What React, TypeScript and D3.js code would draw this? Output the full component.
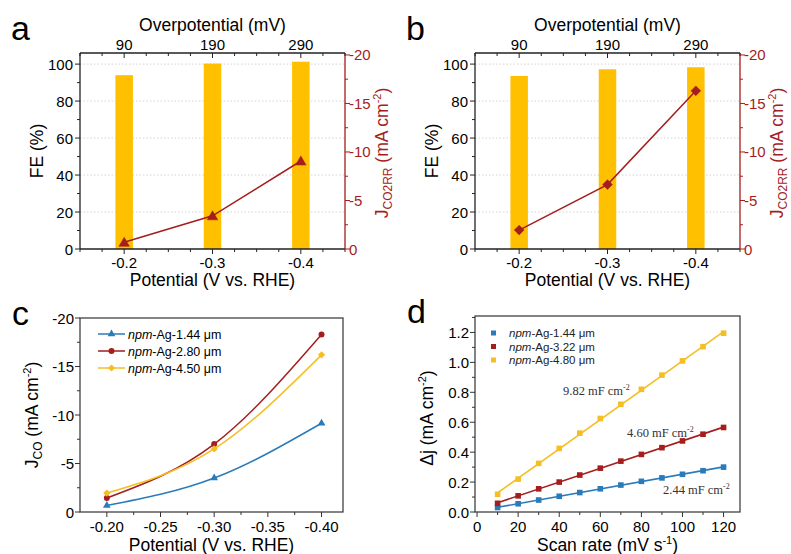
import React from "react";
import * as d3 from "d3";

// ---------- DATA ----------
const potentials = [-0.2, -0.3, -0.4];
const overpotentialTicks = [90, 190, 290];
const feA = [94.0, 100.3, 101.3];
const jA = [-0.69, -3.42, -9.07];
const feB = [93.6, 97.2, 98.3];
const jB = [-1.95, -6.64, -16.3];

const seriesCNames = ["1.44", "2.80", "4.50"];
const jco144 = [-0.67, -3.5, -9.15];
const jco280 = [-1.44, -7.0, -18.3];
const jco450 = [-1.95, -6.5, -16.2];

const scanRates = [10, 20, 30, 40, 50, 60, 70, 80, 90, 100, 110, 120];
const seriesDNames = ["1.44", "3.22", "4.80"];
const dj144 = [0.03, 0.055, 0.08, 0.105, 0.13, 0.155, 0.18, 0.205, 0.228, 0.252, 0.276, 0.3];
const dj322 = [0.058, 0.108, 0.155, 0.2, 0.247, 0.293, 0.34, 0.385, 0.43, 0.475, 0.52, 0.565];
const dj480 = [0.118, 0.22, 0.325, 0.425, 0.527, 0.625, 0.72, 0.82, 0.915, 1.01, 1.105, 1.195];
const capLabels = ["2.44", "4.60", "9.82"];

const FE_TICKS = [0, 20, 40, 60, 80, 100];
const J_TICKS = [0, -5, -10, -15, -20];

// ---------- STYLE ----------
const FONT = "'Liberation Sans', Arial, Helvetica, sans-serif";
const SERIF = "'Liberation Serif', 'Times New Roman', serif";
const BAR = "#FFC000";
const RED = "#A51D1D";
const BLUE = "#2A7BBA";
const YEL = "#F5BE22";
const TICK_FS = 15;
const LAB_FS = 17.5;

const sym = (type: any, size: number) => d3.symbol().type(type).size(size)() as string;

function range(a: number, b: number, step: number) {
  const out: number[] = [];
  for (let v = a; v <= b + 1e-9; v += step) out.push(+v.toFixed(6));
  return out;
}

function PanelAB({ ox, fe, j, marker, letter }: { ox: number; fe: number[]; j: number[]; marker: "tri" | "dia"; letter: string }) {
  const L = ox + 80, R = ox + 345, T = 53, B = 249;
  const x = d3.scaleLinear().domain([-0.15, -0.45]).range([L, R]);
  const xTop = d3.scaleLinear().domain([40, 340]).range([L, R]);
  const yL = d3.scaleLinear().domain([0, 106]).range([B, T]);
  const yR = d3.scaleLinear().domain([0, -20.2]).range([B, T]);
  const line = d3.line<number>().x((_, i) => x(potentials[i])).y((d) => yR(d));
  const bw = 17.5;
  const xMinor = range(0.15, 0.45, 0.025).map((v) => -v);
  const topMinor = range(40, 340, 25);
  const leftMinor = range(0, 100, 10);
  const rightMinor = range(0, 20, 2.5).map((v) => -v);
  const markPath = marker === "tri" ? sym(d3.symbolTriangle, 48) : sym(d3.symbolSquare, 48);
  return (
    <g>
      <text x={ox + 11} y={40} fontSize={34} fontFamily={FONT}>{letter}</text>
      {/* grid */}
      {FE_TICKS.filter((v) => v > 0).map((v) => (
        <line key={"g" + v} x1={L} x2={R} y1={yL(v)} y2={yL(v)} stroke="#c8c8c8" strokeWidth={0.8} strokeDasharray="1.5,2" />
      ))}
      {/* bars */}
      {fe.map((v, i) => (
        <rect key={"b" + i} x={x(potentials[i]) - bw / 2} y={yL(v)} width={bw} height={B - yL(v)} fill={BAR} />
      ))}
      {/* line */}
      <path d={line(j) as string} fill="none" stroke={RED} strokeWidth={1.5} />
      {j.map((v, i) => (
        <path key={"m" + i} d={markPath} fill={RED} stroke={RED} strokeWidth={0.5}
          transform={`translate(${x(potentials[i])},${yR(v) + (marker === "tri" ? 1 : 0)})${marker === "dia" ? " rotate(45)" : ""}`} />
      ))}
      {/* frame */}
      <line x1={L} x2={R} y1={B} y2={B} stroke="#222" strokeWidth={1.3} />
      <line x1={L} x2={R} y1={T} y2={T} stroke="#222" strokeWidth={1.3} />
      <line x1={L} x2={L} y1={T} y2={B} stroke="#222" strokeWidth={1.3} />
      <line x1={R} x2={R} y1={T} y2={B} stroke={RED} strokeWidth={1.3} />
      {/* bottom ticks */}
      {xMinor.map((v) => (
        <line key={"bx" + v} x1={x(v)} x2={x(v)} y1={B} y2={B + (potentials.some((p) => Math.abs(p - v) < 1e-6) ? 5 : 3)} stroke="#222" strokeWidth={1} />
      ))}
      {potentials.map((p) => (
        <text key={"bl" + p} x={x(p)} y={268} fontSize={TICK_FS} fontFamily={FONT} textAnchor="middle">{p.toFixed(1)}</text>
      ))}
      <text x={(L + R) / 2} y={286} fontSize={LAB_FS} fontFamily={FONT} textAnchor="middle">Potential (V vs. RHE)</text>
      {/* top ticks (inward) */}
      {topMinor.map((v) => (
        <line key={"tx" + v} x1={xTop(v)} x2={xTop(v)} y1={T} y2={T + (overpotentialTicks.includes(v) ? 5 : 3)} stroke="#222" strokeWidth={1} />
      ))}
      {overpotentialTicks.map((v) => (
        <text key={"tl" + v} x={xTop(v)} y={50} fontSize={TICK_FS} fontFamily={FONT} textAnchor="middle">{v}</text>
      ))}
      <text x={(L + R) / 2} y={31} fontSize={LAB_FS} fontFamily={FONT} textAnchor="middle">Overpotential (mV)</text>
      {/* left ticks */}
      {leftMinor.map((v) => (
        <line key={"ly" + v} x1={L} x2={L - (v % 20 === 0 ? 5 : 3)} y1={yL(v)} y2={yL(v)} stroke="#222" strokeWidth={1} />
      ))}
      {FE_TICKS.map((v) => (
        <text key={"ll" + v} x={L - 7} y={yL(v) + 5.5} fontSize={TICK_FS} fontFamily={FONT} textAnchor="end">{v}</text>
      ))}
      <text transform={`translate(${ox + 43},${(T + B) / 2}) rotate(-90)`} fontSize={LAB_FS} fontFamily={FONT} textAnchor="middle">FE (%)</text>
      {/* right ticks */}
      {rightMinor.map((v) => (
        <line key={"ry" + v} x1={R} x2={R + (v % 5 === 0 ? 5 : 3)} y1={yR(v)} y2={yR(v)} stroke={RED} strokeWidth={1} />
      ))}
      {J_TICKS.map((v) => (
        <text key={"rl" + v} x={R + 4} y={yR(v) + 5.5} fontSize={TICK_FS} fontFamily={FONT} fill={RED}>{v}</text>
      ))}
      <text transform={`translate(${ox + 388},${(T + B) / 2 + 2}) rotate(-90)`} fontSize={LAB_FS} fontFamily={FONT} textAnchor="middle" fill={RED}>
        J<tspan fontSize={12} dy={4}>CO2RR</tspan>
        <tspan dy={-4}> (mA cm</tspan>
        <tspan fontSize={11} dy={-7}>-2</tspan>
        <tspan dy={7}>)</tspan>
      </text>
    </g>
  );
}

function PanelC() {
  const L = 80, R = 343, T = 318, B = 512;
  const x = d3.scaleLinear().domain([-0.175, -0.42]).range([L, R]);
  const y = d3.scaleLinear().domain([0, -20]).range([B, T]);
  const series = [
    { name: seriesCNames[0], vals: jco144, color: BLUE, m: "tri" },
    { name: seriesCNames[1], vals: jco280, color: RED, m: "cir" },
    { name: seriesCNames[2], vals: jco450, color: YEL, m: "dia" },
  ];
  const line = d3.line<number>().x((_, i) => x(potentials[i])).y((d) => y(d)).curve(d3.curveNatural);
  const mk = (m: string) => (m === "tri" ? sym(d3.symbolTriangle, 26) : m === "cir" ? sym(d3.symbolCircle, 28) : sym(d3.symbolSquare, 26));
  const xMajor = [-0.2, -0.25, -0.3, -0.35, -0.4];
  const xMinor = range(0.2, 0.4, 0.025).map((v) => -v);
  const yMinor = range(0, 20, 2.5).map((v) => -v);
  return (
    <g>
      <text x={12} y={325} fontSize={34} fontFamily={FONT}>c</text>
      {series.map((s) => (
        <g key={s.name}>
          <path d={line(s.vals) as string} fill="none" stroke={s.color} strokeWidth={1.5} />
          {s.vals.map((v, i) => (
            <path key={i} d={mk(s.m)} fill={s.color} transform={`translate(${x(potentials[i])},${y(v)})${s.m === "dia" ? " rotate(45)" : ""}`} />
          ))}
        </g>
      ))}
      <rect x={L} y={T} width={R - L} height={B - T} fill="none" stroke="#333" strokeWidth={1.2} />
      {xMinor.map((v) => (
        <line key={"x" + v} x1={x(v)} x2={x(v)} y1={B} y2={B + (xMajor.some((p) => Math.abs(p - v) < 1e-6) ? 5 : 3)} stroke="#333" />
      ))}
      {xMajor.map((v) => (
        <text key={"xl" + v} x={x(v)} y={532} fontSize={TICK_FS} fontFamily={FONT} textAnchor="middle">{v.toFixed(2)}</text>
      ))}
      <text x={(L + R) / 2} y={551} fontSize={LAB_FS} fontFamily={FONT} textAnchor="middle">Potential (V vs. RHE)</text>
      {yMinor.map((v) => (
        <line key={"y" + v} x1={L} x2={L - (v % 5 === 0 ? 5 : 3)} y1={y(v)} y2={y(v)} stroke="#333" />
      ))}
      {J_TICKS.map((v) => (
        <text key={"yl" + v} x={L - 6} y={y(v) + 5.5} fontSize={TICK_FS} fontFamily={FONT} textAnchor="end">{v}</text>
      ))}
      <text transform={`translate(${38},${(T + B) / 2}) rotate(-90)`} fontSize={LAB_FS} fontFamily={FONT} textAnchor="middle">
        J<tspan fontSize={12} dy={4}>CO</tspan>
        <tspan dy={-4}> (mA cm</tspan>
        <tspan fontSize={11} dy={-7}>-2</tspan>
        <tspan dy={7}>)</tspan>
      </text>
      {/* legend */}
      {series.map((s, i) => {
        const yy = 334 + i * 17;
        return (
          <g key={"lg" + i}>
            <line x1={98} x2={125} y1={yy} y2={yy} stroke={s.color} strokeWidth={1.5} />
            <path d={mk(s.m)} fill={s.color} transform={`translate(111.5,${yy})${s.m === "dia" ? " rotate(45)" : ""}`} />
            <text x={128} y={yy + 4.5} fontSize={12.5} fontFamily={FONT}>
              <tspan fontStyle="italic">npm</tspan>-Ag-{s.name} μm
            </text>
          </g>
        );
      })}
    </g>
  );
}

function PanelD() {
  const ox = 395;
  const L = ox + 80, R = ox + 345, T = 316, B = 512;
  const x = d3.scaleLinear().domain([-1, 128]).range([L, R]);
  const y = d3.scaleLinear().domain([0, 1.31]).range([B, T]);
  const series = [
    { name: seriesDNames[0], vals: dj144, color: BLUE },
    { name: seriesDNames[1], vals: dj322, color: RED },
    { name: seriesDNames[2], vals: dj480, color: YEL },
  ];
  const fitLine = (vals: number[]) => {
    const xs = scanRates, n = xs.length;
    const mx = d3.mean(xs) as number, my = d3.mean(vals) as number;
    let num = 0, den = 0;
    for (let i = 0; i < n; i++) { num += (xs[i] - mx) * (vals[i] - my); den += (xs[i] - mx) ** 2; }
    const k = num / den, b = my - k * mx;
    return { x1: x(xs[0]), y1: y(k * xs[0] + b), x2: x(xs[n - 1]), y2: y(k * xs[n - 1] + b) };
  };
  const xMajor = range(0, 120, 20);
  const xMinor = range(0, 120, 10);
  const yMajor = range(0, 1.2, 0.2);
  const yMinor = range(0, 1.3, 0.1);
  const capPos = [
    { x: 663, y: 494 },
    { x: 627, y: 437 },
    { x: 563, y: 395 },
  ];
  return (
    <g>
      <text x={ox + 12} y={323} fontSize={34} fontFamily={FONT}>d</text>
      {series.map((s) => {
        const f = fitLine(s.vals);
        return (
          <g key={s.name}>
            <line {...f} stroke={s.color} strokeWidth={1.6} />
            {s.vals.map((v, i) => (
              <rect key={i} x={x(scanRates[i]) - 2.8} y={y(v) - 2.8} width={5.6} height={5.6} fill={s.color} />
            ))}
          </g>
        );
      })}
      {capLabels.map((c, i) => (
        <text key={"cap" + i} x={capPos[i].x} y={capPos[i].y} fontSize={12.5} fontFamily={SERIF} fill="#333">
          {c} mF cm<tspan fontSize={8} dy={-5}>-2</tspan>
        </text>
      ))}
      <rect x={L} y={T} width={R - L} height={B - T} fill="none" stroke="#333" strokeWidth={1.2} />
      {xMinor.map((v) => (
        <line key={"x" + v} x1={x(v)} x2={x(v)} y1={B} y2={B + (v % 20 === 0 ? 5 : 3)} stroke="#333" />
      ))}
      {xMajor.map((v) => (
        <text key={"xl" + v} x={x(v)} y={532} fontSize={TICK_FS} fontFamily={FONT} textAnchor="middle">{v}</text>
      ))}
      <text x={(L + R) / 2} y={551} fontSize={LAB_FS} fontFamily={FONT} textAnchor="middle">
        Scan rate (mV s<tspan fontSize={11} dy={-7}>-1</tspan><tspan dy={7}>)</tspan>
      </text>
      {yMinor.map((v, i) => (
        <line key={"y" + v} x1={L} x2={L - (i % 2 === 0 ? 5 : 3)} y1={y(v)} y2={y(v)} stroke="#333" />
      ))}
      {yMajor.map((v) => (
        <text key={"yl" + v} x={L - 6} y={y(v) + 5.5} fontSize={TICK_FS} fontFamily={FONT} textAnchor="end">{v.toFixed(1)}</text>
      ))}
      <text transform={`translate(${ox + 38},${(T + B) / 2 + 4}) rotate(-90)`} fontSize={LAB_FS} fontFamily={FONT} textAnchor="middle">
        Δj (mA cm<tspan fontSize={11} dy={-7}>-2</tspan><tspan dy={7}>)</tspan>
      </text>
      {series.map((s, i) => {
        const yy = 333 + i * 13.5;
        return (
          <g key={"lg" + i}>
            <rect x={ox + 96} y={yy - 2.5} width={5} height={5} fill={s.color} />
            <text x={ox + 114} y={yy + 4} fontSize={11.5} fontFamily={FONT} fill="#222">
              <tspan fontStyle="italic">npm</tspan>-Ag-{s.name} μm
            </text>
          </g>
        );
      })}
    </g>
  );
}

export default function App() {
  return (
    <svg width={791} height={554} viewBox="0 0 791 554" style={{ position: "absolute", left: 0, top: 0, background: "#fff" }}>
      <rect width={791} height={554} fill="#fff" />
      <PanelAB ox={0} fe={feA} j={jA} marker="tri" letter="a" />
      <PanelAB ox={395} fe={feB} j={jB} marker="dia" letter="b" />
      <PanelC />
      <PanelD />
    </svg>
  );
}
